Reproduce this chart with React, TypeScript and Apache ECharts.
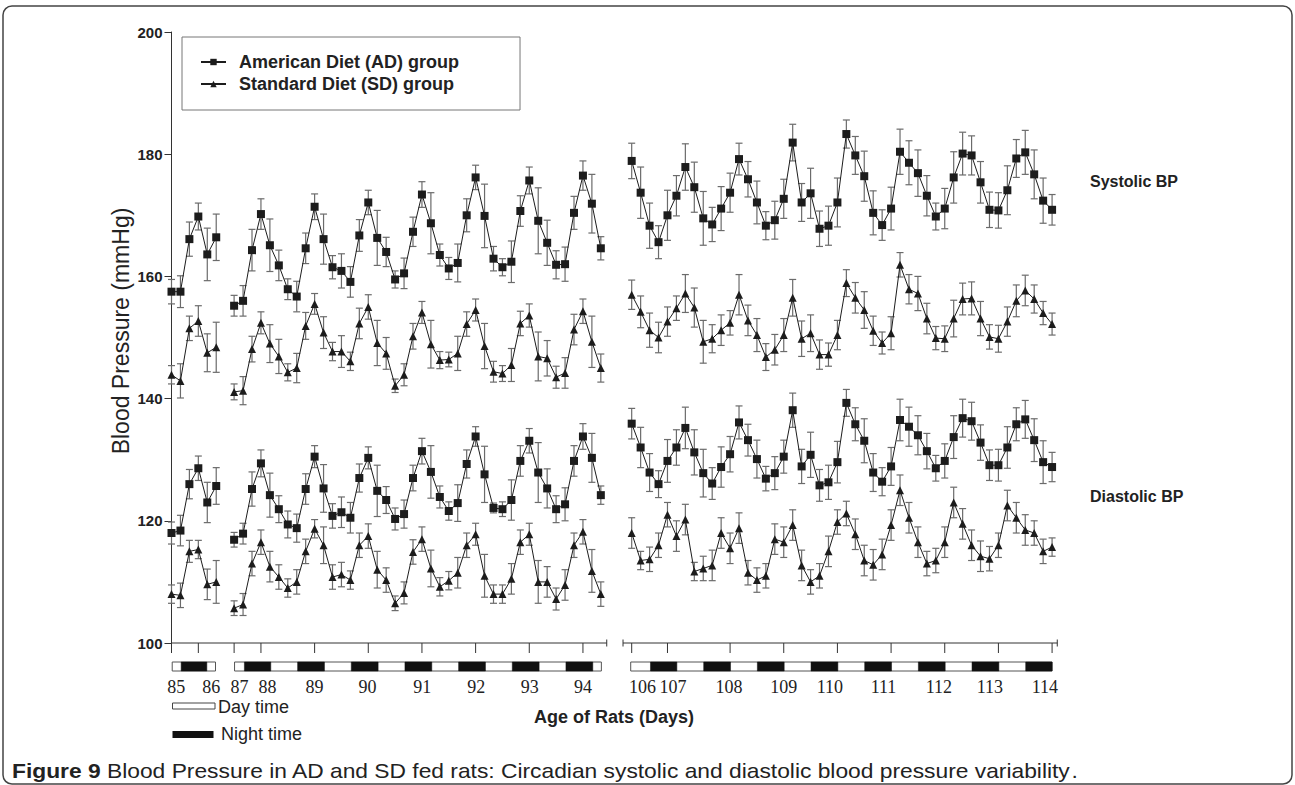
import React, { useEffect, useRef } from 'react';
import * as echarts from 'echarts';

// ---------- axis / time-line data ----------
const DAY_LABELS = ['85', '86', '87', '88', '89', '90', '91', '92', '93', '94', '106', '107', '108', '109', '110', '111', '112', '113', '114'];
const DAY_LABEL_POS = [0.53, 4.44, 7.6, 10.74, 16.0, 21.9, 28.04, 34.08, 40.04, 46.0, 52.65, 56.07, 62.34, 68.46, 73.6, 79.6, 85.8, 91.5, 97.65];
const TICK_POS = [0, 3, 7, 10, 16, 22, 28, 34, 40, 46, 51.45, 55.45, 62.45, 68.45, 74.45, 80.45, 86.45, 92.45, 98.45];
const AXIS_SEGMENTS = [[0, 48.66], [50.48, 99.03]];
const BREAK_POS = [48.66, 50.48, 99.03];
// readings every 4 h; first reading slot of each recording block
const SEGMENT_START = [0, 7, 51.45];
const DAY_BARS = [[0.08, 4.92], [7.05, 48.06], [51.34, 98.45]];
const NIGHT_BARS = [
  [1.08, 3.95],
  [8.15, 11.1], [14.1, 17.1], [20.1, 23.1], [26.1, 29.1], [32.1, 35.1], [38.1, 41.1], [44.1, 47.1],
  [53.55, 56.5], [59.5, 62.5], [65.5, 68.5], [71.5, 74.5], [77.5, 80.5], [83.5, 86.5], [89.5, 92.5], [95.5, 98.45],
];

// ---------- AD systolic ----------
const adSys85 = [157.5, 157.5, 166.1, 169.8, 163.6, 166.4];
const adSys85Err = [2.0, 2.6, 2.8, 2.2, 4.3, 3.8];
const adSys87 = [155.2, 156.0, 164.3, 170.2, 165.1, 161.8, 157.9, 156.7, 164.6, 171.4,
  166.1, 161.5, 160.9, 159.1, 166.7, 172.1, 166.3, 164.0, 159.5, 160.5,
  167.3, 173.4, 168.7, 163.5, 161.3, 162.2, 170.0, 176.2, 169.9, 162.9,
  161.5, 162.4, 170.7, 175.7, 169.1, 165.5, 161.9, 162.0, 170.4, 176.5,
  171.9, 164.6];
const adSys87Err = [1.7, 2.5, 3.4, 2.5, 4.3, 2.5, 1.7, 2.5, 2.5, 2.1,
  4.1, 1.9, 2.8, 2.5, 2.6, 2.0, 4.5, 2.4, 1.4, 2.5,
  2.4, 2.1, 5.0, 1.8, 1.8, 3.1, 2.7, 2.0, 5.2, 2.0,
  1.4, 3.4, 2.5, 2.2, 5.4, 3.7, 2.3, 2.8, 2.7, 2.4,
  4.8, 1.9];
const adSys106 = [178.9, 173.7, 168.3, 165.6, 170.0, 173.2, 177.9, 174.6, 169.5, 168.5,
  171.1, 173.7, 179.2, 175.9, 172.1, 168.3, 169.2, 172.7, 181.9, 172.1,
  173.6, 167.8, 168.3, 172.1, 183.3, 179.8, 176.4, 170.4, 168.4, 171.1,
  180.4, 178.6, 176.9, 173.2, 169.8, 171.1, 176.2, 180.1, 179.8, 175.4,
  170.9, 170.8, 174.1, 179.3, 180.3, 176.7, 172.4, 170.9];
const adSys106Err = [2.9, 4.2, 3.7, 2.7, 4.1, 3.3, 3.8, 4.1, 4.4, 2.8,
  3.6, 3.2, 2.6, 2.9, 3.5, 2.3, 3.1, 3.2, 3.0, 3.1,
  4.1, 2.9, 3.2, 4.0, 2.3, 3.1, 4.1, 3.6, 2.5, 3.5,
  3.7, 3.6, 3.8, 3.3, 2.2, 3.3, 4.2, 3.5, 3.2, 3.4,
  2.9, 2.9, 4.0, 3.1, 3.6, 4.0, 3.7, 2.5];

// ---------- SD systolic ----------
const sdSys85 = [143.9, 142.9, 151.5, 152.7, 147.5, 148.4];
const sdSys85Err = [1.5, 2.8, 2.0, 2.5, 3.1, 4.1];
const sdSys87 = [141.1, 141.3, 148.1, 152.4, 149.0, 146.9, 144.3, 145.0, 151.9, 155.5,
  150.8, 147.7, 147.7, 146.1, 152.3, 155.0, 149.1, 147.4, 142.1, 143.9,
  150.2, 154.1, 148.9, 146.3, 146.4, 147.4, 152.2, 154.5, 148.6, 144.4,
  144.1, 145.5, 152.3, 153.6, 146.9, 146.6, 143.5, 144.2, 151.3, 154.3,
  149.3, 145.0];
const sdSys87Err = [1.3, 2.3, 2.1, 1.8, 3.1, 2.8, 1.4, 2.4, 2.2, 1.7,
  2.6, 1.5, 2.6, 1.5, 2.5, 2.0, 3.7, 2.6, 1.1, 1.8,
  2.1, 1.8, 3.9, 1.4, 1.2, 2.8, 2.0, 1.8, 3.7, 1.7,
  1.3, 2.7, 2.0, 1.9, 4.0, 2.9, 1.8, 2.5, 2.5, 2.0,
  4.2, 2.3];
const sdSys106 = [157.0, 154.2, 151.2, 150.0, 152.6, 154.8, 157.2, 154.9, 149.3, 149.8,
  151.2, 152.4, 157.0, 152.8, 150.4, 146.8, 148.0, 150.4, 156.5, 149.8,
  150.7, 147.2, 147.2, 150.4, 158.9, 156.5, 154.5, 151.1, 149.1, 150.7,
  161.9, 157.9, 157.2, 153.1, 149.9, 149.8, 153.1, 156.3, 156.4, 153.1,
  150.1, 149.8, 152.6, 156.0, 157.7, 156.3, 154.0, 152.2];
const sdSys106Err = [2.4, 2.6, 2.8, 2.5, 2.4, 2.0, 3.1, 3.2, 3.5, 2.3,
  2.5, 2.0, 3.3, 2.5, 2.7, 2.2, 2.5, 2.7, 3.0, 2.9,
  3.0, 2.4, 1.9, 2.4, 2.2, 2.5, 3.0, 2.4, 1.8, 2.7,
  2.0, 2.4, 2.8, 2.5, 1.9, 2.1, 3.0, 2.6, 2.7, 2.8,
  2.0, 2.2, 2.4, 2.6, 2.5, 2.3, 1.9, 1.8];

// ---------- AD diastolic ----------
const adDia85 = [118.0, 118.4, 126.0, 128.6, 123.0, 125.7];
const adDia85Err = [1.8, 2.5, 2.4, 2.0, 3.3, 3.0];
const adDia87 = [116.9, 117.9, 125.2, 129.4, 124.2, 121.9, 119.4, 118.8, 125.2, 130.5,
  125.3, 120.8, 121.4, 120.5, 127.0, 130.3, 124.9, 123.4, 120.3, 121.1,
  127.0, 131.4, 128.0, 123.9, 121.6, 122.9, 129.3, 133.8, 127.6, 122.1,
  121.9, 123.4, 129.8, 133.1, 127.9, 125.3, 121.9, 122.7, 129.8, 133.8,
  130.3, 124.2];
const adDia87Err = [1.2, 1.7, 2.8, 2.2, 3.6, 2.2, 2.2, 2.3, 2.5, 1.8,
  3.9, 2.0, 2.5, 2.5, 2.3, 1.8, 4.2, 2.2, 1.8, 2.3,
  2.1, 2.1, 4.3, 1.8, 1.5, 3.0, 2.3, 1.6, 4.6, 0.8,
  1.2, 3.3, 2.5, 2.0, 4.9, 3.2, 2.2, 2.7, 2.5, 2.1,
  4.0, 1.5];
const adDia106 = [135.9, 132.0, 127.9, 126.0, 129.8, 132.0, 135.2, 131.2, 127.8, 126.1,
  128.8, 130.9, 136.1, 133.2, 130.1, 126.9, 127.8, 130.5, 138.1, 128.9,
  130.8, 125.8, 126.3, 129.6, 139.3, 135.8, 133.1, 127.9, 126.4, 128.9,
  136.5, 135.4, 134.0, 131.4, 128.6, 129.8, 133.7, 136.8, 136.3, 132.8,
  129.1, 129.1, 132.0, 135.8, 136.6, 133.2, 129.6, 128.8];
const adDia106Err = [2.5, 3.3, 3.1, 2.2, 3.5, 2.9, 3.4, 3.7, 3.9, 2.6,
  3.3, 2.9, 2.7, 2.6, 3.1, 2.0, 2.7, 2.7, 2.8, 2.8,
  3.7, 2.6, 2.8, 3.4, 2.2, 2.7, 3.6, 3.1, 2.3, 3.1,
  3.4, 3.2, 3.2, 2.9, 2.1, 2.8, 3.5, 3.1, 3.1, 2.9,
  2.5, 2.6, 3.4, 2.7, 3.1, 3.5, 3.5, 2.4];

// ---------- SD diastolic ----------
const sdDia85 = [108.0, 107.8, 115.0, 115.3, 109.6, 110.0];
const sdDia85Err = [1.5, 2.0, 1.8, 1.5, 2.5, 3.5];
const sdDia87 = [105.7, 106.3, 113.0, 116.5, 112.5, 110.8, 109.0, 110.0, 115.0, 118.7,
  116.0, 110.8, 111.2, 110.3, 116.0, 117.5, 112.0, 110.3, 106.5, 108.2,
  114.9, 117.0, 112.2, 109.2, 110.2, 111.5, 116.0, 117.8, 111.0, 108.0,
  108.0, 110.5, 116.5, 117.8, 110.0, 110.0, 107.2, 109.5, 116.0, 118.2,
  111.8, 108.0];
const sdDia87Err = [1.2, 1.8, 2.0, 2.0, 2.5, 2.0, 1.5, 2.0, 2.0, 1.5,
  3.0, 2.0, 2.0, 1.5, 2.0, 2.0, 3.0, 2.0, 1.2, 1.8,
  2.0, 2.0, 3.0, 1.5, 1.5, 2.5, 2.0, 1.8, 3.5, 1.5,
  1.5, 2.5, 2.0, 1.8, 3.5, 2.5, 1.8, 2.5, 2.0, 2.0,
  3.5, 2.0];
const sdDia106 = [118.0, 113.5, 113.7, 116.0, 121.0, 117.5, 120.2, 111.7, 112.2, 112.7,
  118.0, 115.5, 118.8, 111.5, 110.3, 111.0, 117.0, 116.5, 119.3, 112.7,
  110.0, 111.0, 115.0, 119.8, 121.2, 117.8, 113.5, 112.8, 114.5, 119.3,
  125.0, 120.5, 116.5, 113.0, 113.5, 116.5, 123.0, 119.5, 116.0, 114.2,
  113.8, 116.0, 122.5, 120.5, 118.5, 118.0, 115.0, 115.7];
const sdDia106Err = [2.5, 1.5, 2.0, 2.0, 2.0, 2.5, 2.5, 1.5, 2.0, 2.5,
  2.5, 2.5, 2.5, 2.0, 2.0, 2.0, 2.5, 2.5, 2.5, 2.5,
  2.0, 2.0, 2.5, 2.0, 2.0, 2.5, 2.5, 2.5, 2.5, 2.5,
  2.5, 2.5, 2.5, 2.0, 2.0, 2.5, 2.5, 2.5, 2.5, 2.5,
  2.0, 2.0, 2.5, 2.5, 2.5, 2.0, 2.0, 1.5];

const AD_NAME = 'American Diet (AD) group';
const SD_NAME = 'Standard Diet (SD) group';

function lineData(segs: number[][]) {
  const out: any[] = [];
  segs.forEach((seg, s) => {
    seg.forEach((v, i) => out.push([SEGMENT_START[s] + i, v]));
    if (s < segs.length - 1) out.push([SEGMENT_START[s] + seg.length, '-']);
  });
  return out;
}
function errData(segs: number[][], errs: number[][]) {
  const out: number[][] = [];
  segs.forEach((seg, s) => {
    seg.forEach((v, i) => out.push([SEGMENT_START[s] + i, v - errs[s][i], v + errs[s][i]]));
  });
  return out;
}

const LINE_COLOR = '#1c1c1c';
const ERR_COLOR = '#6b6b6b';

function errSeries(data: number[][]) {
  return {
    type: 'custom',
    xAxisIndex: 0,
    yAxisIndex: 0,
    silent: true,
    clip: false,
    z: 1,
    encode: { x: 0, y: [1, 2] },
    data,
    renderItem: (_p: any, api: any) => {
      const x = api.value(0);
      const lo = api.coord([x, api.value(1)]);
      const hi = api.coord([x, api.value(2)]);
      const hw = 3.5;
      const st = { stroke: ERR_COLOR, lineWidth: 1.2 };
      return {
        type: 'group',
        children: [
          { type: 'line', shape: { x1: lo[0], y1: lo[1], x2: hi[0], y2: hi[1] }, style: st },
          { type: 'line', shape: { x1: hi[0] - hw, y1: hi[1], x2: hi[0] + hw, y2: hi[1] }, style: st },
          { type: 'line', shape: { x1: lo[0] - hw, y1: lo[1], x2: lo[0] + hw, y2: lo[1] }, style: st },
        ],
      };
    },
  };
}

function lineSeries(name: string, symbol: string, size: number, data: any[]) {
  return {
    type: 'line',
    name,
    xAxisIndex: 0,
    yAxisIndex: 0,
    data,
    symbol,
    symbolSize: size,
    showAllSymbol: true,
    connectNulls: false,
    z: 3,
    lineStyle: { color: LINE_COLOR, width: 1 },
    itemStyle: { color: LINE_COLOR, borderWidth: 0 },
  };
}

export default function App() {
  const ref = useRef<HTMLDivElement>(null);
  useEffect(() => {
    if (!ref.current) return;
    const chart = echarts.init(ref.current, undefined, { renderer: 'svg' });

    const adSysSegs = [adSys85, adSys87, adSys106];
    const sdSysSegs = [sdSys85, sdSys87, sdSys106];
    const adDiaSegs = [adDia85, adDia87, adDia106];
    const sdDiaSegs = [sdDia85, sdDia87, sdDia106];

    const option: any = {
      animation: false,
      backgroundColor: '#ffffff',
      grid: [
        { left: 171.5, right: 238, top: 32, bottom: 142 },
        { left: 171.5, right: 238, top: 662, height: 9 },
      ],
      xAxis: [
        { type: 'value', gridIndex: 0, min: 0, max: 99, show: false },
        { type: 'value', gridIndex: 1, min: 0, max: 99, show: false },
      ],
      yAxis: [
        {
          type: 'value', gridIndex: 0, min: 100, max: 200, interval: 20,
          axisLine: { show: true, lineStyle: { color: '#333', width: 1 } },
          axisTick: { show: true, length: 7, lineStyle: { color: '#333' } },
          axisLabel: { margin: 9, fontFamily: 'Liberation Sans', fontWeight: 'bold', fontSize: 15, color: '#222' },
          splitLine: { show: false },
        },
        { type: 'value', gridIndex: 1, min: 0, max: 1, show: false },
      ],
      legend: {
        left: 182, top: 37, orient: 'vertical',
        data: [AD_NAME, SD_NAME],
        borderColor: '#777', borderWidth: 1,
        padding: [16, 61, 17, 18],
        itemWidth: 25, itemHeight: 8, itemGap: 4,
        textStyle: { fontFamily: 'Liberation Sans', fontWeight: 'bold', fontSize: 18, color: '#222', padding: [0, 0, 0, 8] },
      },
      series: [
        errSeries(errData(adSysSegs, [adSys85Err, adSys87Err, adSys106Err])),
        errSeries(errData(sdSysSegs, [sdSys85Err, sdSys87Err, sdSys106Err])),
        errSeries(errData(adDiaSegs, [adDia85Err, adDia87Err, adDia106Err])),
        errSeries(errData(sdDiaSegs, [sdDia85Err, sdDia87Err, sdDia106Err])),
        lineSeries(AD_NAME, 'rect', 8, lineData(adSysSegs)),
        lineSeries(SD_NAME, 'triangle', 8, lineData(sdSysSegs)),
        lineSeries(AD_NAME, 'rect', 8, lineData(adDiaSegs)),
        lineSeries(SD_NAME, 'triangle', 8, lineData(sdDiaSegs)),
        // broken x axis line
        {
          type: 'custom', xAxisIndex: 0, yAxisIndex: 0, silent: true, clip: false, z: 2,
          data: AXIS_SEGMENTS,
          renderItem: (_p: any, api: any) => {
            const a = api.coord([api.value(0), 100]);
            const b = api.coord([api.value(1), 100]);
            return { type: 'line', shape: { x1: a[0], y1: a[1], x2: b[0], y2: b[1] }, style: { stroke: '#333', lineWidth: 1 } };
          },
        },
        // break marks
        {
          type: 'custom', xAxisIndex: 0, yAxisIndex: 0, silent: true, clip: false, z: 2,
          data: BREAK_POS.map((p) => [p, 100]),
          renderItem: (_p: any, api: any) => {
            const a = api.coord([api.value(0), 100]);
            return { type: 'line', shape: { x1: a[0], y1: a[1] - 3.5, x2: a[0], y2: a[1] + 3.5 }, style: { stroke: '#333', lineWidth: 1 } };
          },
        },
        // ticks
        {
          type: 'custom', xAxisIndex: 0, yAxisIndex: 0, silent: true, clip: false, z: 2,
          data: TICK_POS.map((p) => [p, 100]),
          renderItem: (_p: any, api: any) => {
            const a = api.coord([api.value(0), 100]);
            return { type: 'line', shape: { x1: a[0], y1: a[1], x2: a[0], y2: a[1] + 10 }, style: { stroke: '#333', lineWidth: 1 } };
          },
        },
        // day bars (white, outlined)
        {
          type: 'custom', xAxisIndex: 1, yAxisIndex: 1, silent: true, clip: false, z: 2,
          data: DAY_BARS,
          renderItem: (_p: any, api: any) => {
            const a = api.coord([api.value(0), 1]);
            const b = api.coord([api.value(1), 0]);
            return { type: 'rect', shape: { x: a[0], y: a[1], width: b[0] - a[0], height: b[1] - a[1] }, style: { fill: '#fff', stroke: '#555', lineWidth: 1 } };
          },
        },
        // night bars
        {
          type: 'custom', xAxisIndex: 1, yAxisIndex: 1, silent: true, clip: false, z: 3,
          data: NIGHT_BARS,
          renderItem: (_p: any, api: any) => {
            const a = api.coord([api.value(0), 1]);
            const b = api.coord([api.value(1), 0]);
            return { type: 'rect', shape: { x: a[0], y: a[1], width: b[0] - a[0], height: b[1] - a[1] }, style: { fill: '#111', stroke: '#111', lineWidth: 0.5 } };
          },
        },
        // day labels
        {
          type: 'custom', xAxisIndex: 1, yAxisIndex: 1, silent: true, clip: false, z: 3,
          data: DAY_LABEL_POS.map((p, i) => [p, i]),
          renderItem: (params: any, api: any) => {
            const a = api.coord([api.value(0), 0]);
            return {
              type: 'text', x: a[0], y: a[1] + 16,
              style: { text: DAY_LABELS[params.dataIndex], fill: '#222', font: '18px "Liberation Serif"', align: 'center', verticalAlign: 'middle' },
            };
          },
        },
      ],
      graphic: [
        { type: 'rect', silent: true, shape: { x: 3, y: 6, width: 1289, height: 778, r: 9 }, style: { fill: 'none', stroke: '#444', lineWidth: 1.5 } },
        {
          type: 'text', x: 121, y: 331, rotation: Math.PI / 2,
          style: { text: 'Blood Pressure (mmHg)', font: '23px "Liberation Sans"', fill: '#222', align: 'center', verticalAlign: 'middle' },
        },
        { type: 'text', left: 1090, top: 173, style: { text: 'Systolic BP', font: 'bold 16px "Liberation Sans"', fill: '#222' } },
        { type: 'text', left: 1090, top: 488, style: { text: 'Diastolic BP', font: 'bold 16px "Liberation Sans"', fill: '#222' } },
        { type: 'text', x: 614, y: 717, style: { text: 'Age of Rats (Days)', font: 'bold 18px "Liberation Sans"', fill: '#222', align: 'center', verticalAlign: 'middle' } },
        { type: 'rect', shape: { x: 172.5, y: 703, width: 42.5, height: 6 }, style: { fill: '#fff', stroke: '#444', lineWidth: 1 } },
        { type: 'text', x: 218, y: 707, style: { text: 'Day time', font: '18px "Liberation Sans"', fill: '#222', verticalAlign: 'middle' } },
        { type: 'rect', shape: { x: 172.5, y: 731, width: 41, height: 7 }, style: { fill: '#111' } },
        { type: 'text', x: 221, y: 734, style: { text: 'Night time', font: '18px "Liberation Sans"', fill: '#222', verticalAlign: 'middle' } },
        {
          type: 'text', x: 12, y: 771, scaleX: 1.14,
          style: {
            text: '{b|Figure 9} {r|Blood Pressure in AD and SD fed rats: Circadian systolic and diastolic blood pressure variability}.',
            verticalAlign: 'middle',
            font: '20px "Liberation Sans"', fill: '#222',
            rich: {
              b: { font: 'bold 20px "Liberation Sans"', fill: '#222' },
              r: { font: '20px "Liberation Sans"', fill: '#222' },
            },
          },
        },
      ],
    };
    chart.setOption(option);
    return () => chart.dispose();
  }, []);
  return <div ref={ref} style={{ position: 'fixed', left: 0, top: 0, width: 1295, height: 785, background: '#fff' }} />;
}
